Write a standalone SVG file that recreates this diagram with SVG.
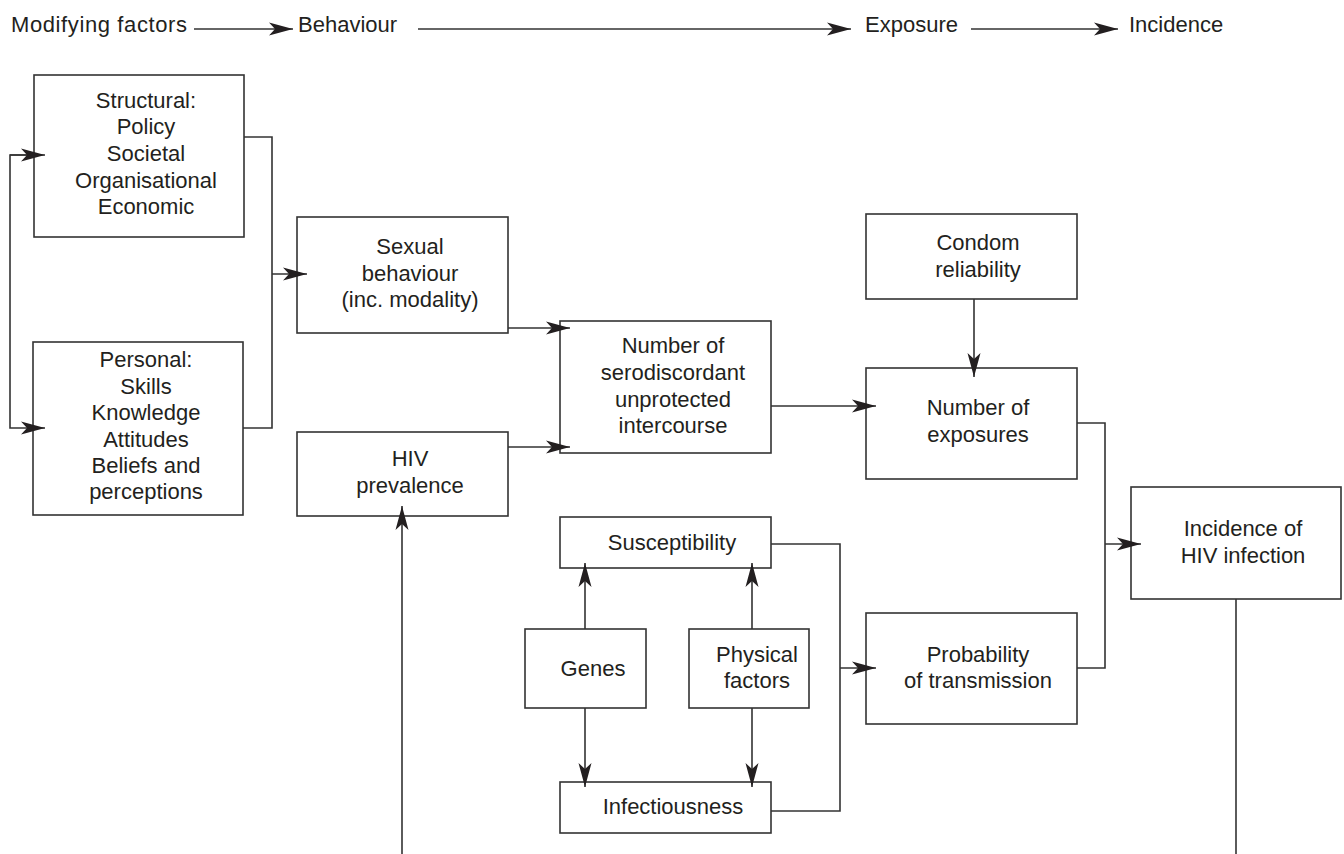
<svg xmlns="http://www.w3.org/2000/svg" width="1344" height="854" viewBox="0 0 1344 854">
<defs>
<marker id="ah" markerUnits="userSpaceOnUse" markerWidth="26" markerHeight="16" viewBox="0 -8 26 16" refX="24" refY="0" orient="auto">
<path d="M0,-6.5 L24,0 L0,6.5 L6,0 z" fill="#231f20"/>
</marker>
<style>
text{font-family:"Liberation Sans",Arial,Helvetica,sans-serif;font-size:22px;fill:#231f20;text-anchor:middle}
.hd{text-anchor:start}
.n{fill:#fff;stroke:#333;stroke-width:1.6}
.c{fill:none;stroke:#333;stroke-width:1.6}
.a{marker-end:url(#ah)}
</style>
</defs>
<rect width="1344" height="854" fill="#fff"/>
<g id="header">
<text class="hd" x="11" y="32" textLength="176" lengthAdjust="spacing">Modifying factors</text>
<text class="hd" x="298" y="32">Behaviour</text>
<text class="hd" x="865" y="32">Exposure</text>
<text class="hd" x="1129" y="32">Incidence</text>
</g>
<g id="structural">
<rect class="n" x="34" y="75" width="210" height="162"/>
<text x="146" y="108">Structural:</text>
<text x="146" y="134">Policy</text>
<text x="146" y="161">Societal</text>
<text x="146" y="188">Organisational</text>
<text x="146" y="214">Economic</text>
</g>
<g id="personal">
<rect class="n" x="33" y="342" width="210" height="173"/>
<text x="146" y="367">Personal:</text>
<text x="146" y="394">Skills</text>
<text x="146" y="420">Knowledge</text>
<text x="146" y="447">Attitudes</text>
<text x="146" y="473">Beliefs and</text>
<text x="146" y="499">perceptions</text>
</g>
<g id="sexual">
<rect class="n" x="297" y="217" width="211" height="116"/>
<text x="410" y="254">Sexual</text>
<text x="410" y="281">behaviour</text>
<text x="410" y="307">(inc. modality)</text>
</g>
<g id="hiv-prevalence">
<rect class="n" x="297" y="432" width="211" height="84"/>
<text x="410" y="466">HIV</text>
<text x="410" y="493">prevalence</text>
</g>
<g id="serodiscordant">
<rect class="n" x="560" y="321" width="211" height="132"/>
<text x="673" y="353">Number of</text>
<text x="673" y="380">serodiscordant</text>
<text x="673" y="407">unprotected</text>
<text x="673" y="433">intercourse</text>
</g>
<g id="condom">
<rect class="n" x="866" y="214" width="211" height="85"/>
<text x="978" y="250">Condom</text>
<text x="978" y="277">reliability</text>
</g>
<g id="exposures">
<rect class="n" x="866" y="368" width="211" height="111"/>
<text x="978" y="415">Number of</text>
<text x="978" y="442">exposures</text>
</g>
<g id="probability">
<rect class="n" x="866" y="613" width="211" height="111"/>
<text x="978" y="662">Probability</text>
<text x="978" y="688">of transmission</text>
</g>
<g id="incidence">
<rect class="n" x="1131" y="487" width="210" height="112"/>
<text x="1243" y="536">Incidence of</text>
<text x="1243" y="563">HIV infection</text>
</g>
<g id="susceptibility">
<rect class="n" x="560" y="517" width="211" height="51"/>
<text x="672" y="550">Susceptibility</text>
</g>
<g id="genes">
<rect class="n" x="525" y="629" width="121" height="79"/>
<text x="593" y="676">Genes</text>
</g>
<g id="physical">
<rect class="n" x="689" y="629" width="120" height="79"/>
<text x="757" y="662">Physical</text>
<text x="757" y="688">factors</text>
</g>
<g id="infectiousness">
<rect class="n" x="560" y="782" width="211" height="51"/>
<text x="673" y="814">Infectiousness</text>
</g>
<g id="connectors">
<path class="c a" d="M194,29 H293"/>
<path class="c a" d="M418,29 H851"/>
<path class="c a" d="M971,29 H1118"/>
<path class="c a" d="M34,155 H10 V428 H45"/>
<path class="c a" d="M10,155 H45"/>
<path class="c" d="M244,137 H272 V428 H243"/>
<path class="c a" d="M272,274 H307"/>
<path class="c a" d="M508,328 H570"/>
<path class="c a" d="M508,447 H570"/>
<path class="c a" d="M402,854 V506"/>
<path class="c a" d="M771,406 H876"/>
<path class="c a" d="M974,299 V377"/>
<path class="c" d="M1077,423 H1105 V668 H1077"/>
<path class="c a" d="M1105,544 H1141"/>
<path class="c" d="M1236,599 V854"/>
<path class="c" d="M771,544 H840 V811 H771"/>
<path class="c a" d="M840,668 H876"/>
<path class="c a" d="M585,629 V563"/>
<path class="c a" d="M585,708 V787"/>
<path class="c a" d="M752,629 V563"/>
<path class="c a" d="M752,708 V787"/>
</g>
</svg>
